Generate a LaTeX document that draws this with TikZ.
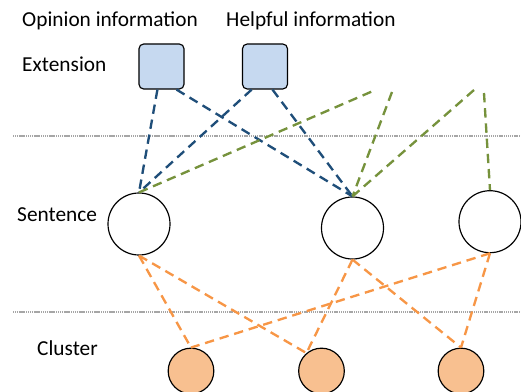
\documentclass[tikz,border=0pt]{standalone}
\usepackage{xcolor}
\usepackage{fontspec}
\setmainfont{Carlito}
\definecolor{extblue}{RGB}{31,78,121}
\definecolor{extgreen}{RGB}{118,146,60}
\definecolor{clorange}{RGB}{247,150,70}
\definecolor{boxfill}{RGB}{198,217,240}
\definecolor{clfill}{RGB}{248,192,144}
\usetikzlibrary{calc}

\begin{document}
\begin{tikzpicture}[x=0.03cm, y=-0.03cm, every node/.style={font=\fontsize{18.2}{21}\selectfont},
    extbox/.style={draw, line width=1pt, rounded corners=4pt, fill=boxfill, minimum size=1.35cm, inner sep=0pt},
    sentnode/.style={draw, circle, line width=1pt, minimum size=1.86cm, inner sep=0pt},
    clnode/.style={draw, circle, line width=1pt, fill=clfill, minimum size=1.37cm, inner sep=0pt},
    layerline/.style={gray!70, line width=1.3pt, dash pattern=on 1pt off 0.6pt},
    link/.style={line width=2pt, dash pattern=on 8pt off 5pt}]
  \useasboundingbox (0,0) rectangle (521,392);
  % layer labels
  \node[anchor=base west, inner sep=0pt] (lopinion) at (22,26.7) {Opinion information};
  \node[anchor=base west, inner sep=0pt] (lhelpful) at (226,26.7) {Helpful information};
  \node[anchor=base west, inner sep=0pt] (lext) at (22,71.7) {Extension};
  \node[anchor=base west, inner sep=0pt] (lsent) at (17,221) {Sentence};
  \node[anchor=base west, inner sep=0pt] (lclust) at (37,355) {Cluster};
  % separators
  \coordinate (sepA) at (13,136);
  \coordinate (sepAend) at (521,136);
  \coordinate (sepB) at (13,312);
  \coordinate (sepBend) at (521,312);
  \draw[layerline] (sepA) -- (sepAend);
  \draw[layerline] (sepB) -- (sepBend);
  % nodes
  \node[extbox] (ext1) at (161.5,66.5) {};
  \node[extbox] (ext2) at (265,66.5) {};
  \node[sentnode] (s1) at (139,224) {};
  \node[sentnode] (s2) at (352.5,228) {};
  \node[sentnode] (s3) at (490,221.7) {};
  \node[clnode] (c1) at (191,371) {};
  \node[clnode] (c2) at (321.5,371) {};
  \node[clnode] (c3) at (461,371) {};
  % free ends of the green links
  \coordinate (g1) at (373,91);
  \coordinate (g2) at (392,92);
  \coordinate (g3) at (474,90);
  \coordinate (g4) at (484,93);
  % extension -> sentence
  \draw[link, extblue] (ext1.-100) -- (s1.north);
  \draw[link, extblue] (ext1.-57) -- (s2.north);
  \draw[link, extblue] (ext2.-120) -- (s1.north);
  \draw[link, extblue] (ext2.-72) -- (s2.north);
  \draw[link, extgreen] (s1.north) -- (g1);
  \draw[link, extgreen] (g2) -- (s2.north);
  \draw[link, extgreen] (g3) -- (s2.north);
  \draw[link, extgreen] (g4) -- (s3.north);
  % sentence -> cluster
  \draw[link, clorange] (s1.south) -- (c1.north);
  \draw[link, clorange] (s1.south) -- (c2.130);
  \draw[link, clorange] (s2.south) -- (c2.130);
  \draw[link, clorange] (s2.south) -- (c3.north);
  \draw[link, clorange] (s3.south) -- (c1.north);
  \draw[link, clorange] (s3.south) -- (c3.north);
\end{tikzpicture}
\end{document}
